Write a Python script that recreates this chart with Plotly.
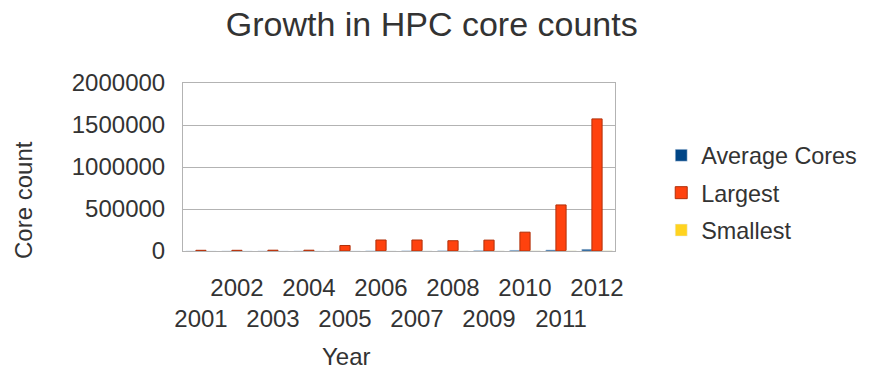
import plotly.graph_objects as go

years = ["2001", "2002", "2003", "2004", "2005", "2006", "2007", "2008", "2009", "2010", "2011", "2012"]
average_cores = [540, 650, 780, 1000, 1500, 2100, 3200, 4700, 6800, 9500, 13000, 21000]
largest = [8192, 8192, 9632, 9632, 65536, 131072, 131072, 122400, 129600, 224162, 548352, 1572864]
smallest = [48, 64, 96, 128, 256, 512, 800, 1024, 1280, 1800, 2400, 3000]
y_ticks = [0, 500000, 1000000, 1500000, 2000000]

tick_text = [y if i % 2 == 1 else "<br>" + y for i, y in enumerate(years)]

font = "Liberation Sans, Arial, sans-serif"
txt = "#333333"

fig = go.Figure()
fig.add_trace(go.Bar(x=years, y=average_cores, name="Average Cores", marker_color="#004586", legendgroup="a"))
fig.add_trace(go.Bar(x=years, y=largest, name="Largest", marker_color="#ff420e",
                     marker_line=dict(color="#b0300a", width=1), legendgroup="b"))
fig.add_trace(go.Bar(x=years, y=smallest, name="Smallest", marker_color="#ffd320", legendgroup="c"))

fig.update_layout(
    width=874, height=372,
    margin=dict(l=183, r=259, t=83, b=121, autoexpand=False),
    paper_bgcolor="white", plot_bgcolor="white",
    barmode="group", bargap=0.15, bargroupgap=0.0,
    font=dict(family=font, size=24, color=txt),
    title=dict(text="Growth in HPC core counts", x=0.494, xanchor="center",
               y=0.935, yanchor="middle", font=dict(size=34, color=txt)),
    legend=dict(x=1.107, xanchor="left", y=0.345, yanchor="middle",
                font=dict(size=23.4, color=txt), tracegroupgap=4),
    showlegend=True,
    annotations=[
        dict(text="Year", xref="paper", yref="paper", x=(346 - 183) / 432, y=(251 - 356) / 168,
             xanchor="center", yanchor="middle", showarrow=False,
             font=dict(size=24, color=txt)),
        dict(text="Core count", xref="paper", yref="paper", x=(23 - 183) / 432, y=(251 - 200) / 168,
             xanchor="center", yanchor="middle", showarrow=False, textangle=-90,
             font=dict(size=24, color=txt)),
    ],
)
fig.update_xaxes(
    type="category", tickmode="array", tickvals=years, ticktext=tick_text,
    tickangle=0, automargin=False,
    ticks="outside", ticklen=15, tickcolor="rgba(0,0,0,0)",
    showline=True, linecolor="#b3b3b3", linewidth=1, mirror=True,
    tickfont=dict(size=24, color=txt), range=[-0.5, 11.5],
)
fig.update_yaxes(
    range=[0, 2000000], tickmode="array", tickvals=y_ticks,
    ticktext=[str(v) for v in y_ticks], automargin=False,
    ticks="outside", ticklen=12, tickcolor="rgba(0,0,0,0)",
    showgrid=True, gridcolor="#b3b3b3", gridwidth=1,
    showline=True, linecolor="#b3b3b3", linewidth=1, mirror=True,
    zeroline=False,
    tickfont=dict(size=24, color=txt),
)

fig.write_html("out.html")
